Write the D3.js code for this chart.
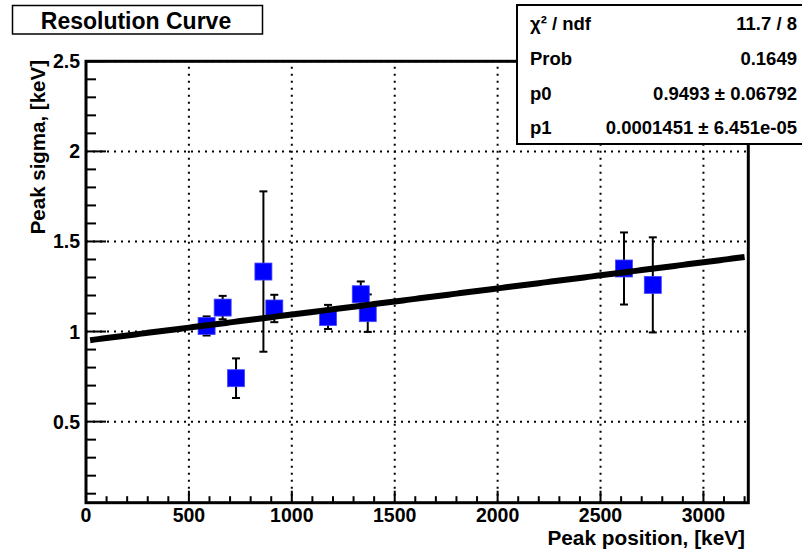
<!DOCTYPE html>
<html><head><meta charset="utf-8">
<script src="https://cdn.jsdelivr.net/npm/d3@7"></script>
<style>html,body{margin:0;padding:0;background:#fff;}svg{display:block;}</style>
</head><body>
<script>
const peakPos   = [586, 664, 729, 862, 915, 1176, 1335, 1369, 2614, 2754];
const peakSigma = [1.031, 1.133, 0.741, 1.333, 1.128, 1.081, 1.207, 1.102, 1.350, 1.259];
const sigmaErr  = [0.053, 0.065, 0.110, 0.445, 0.076, 0.067, 0.071, 0.104, 0.200, 0.264];
const fitP0 = 0.9493, fitP1 = 0.0001451;
const xTicks = [0, 500, 1000, 1500, 2000, 2500, 3000];
const yTicks = [0.5, 1, 1.5, 2, 2.5];
const statLabels = ["\u03C7\u00B2 / ndf", "Prob", "p0", "p1"];
const statValues = ["11.7 / 8", "0.1649", "0.9493 \u00B1 0.06792", "0.0001451 \u00B1 6.451e-05"];

const W = 802, H = 553;
const FONT = "'Liberation Sans', Arial, Helvetica, sans-serif";
const svg = d3.select("body").append("svg").attr("width", W).attr("height", H);
svg.append("rect").attr("width", W).attr("height", H).attr("fill", "#fff");

const L = 86, R = 748.3, T = 61.3, B = 502.7;
const x = d3.scaleLinear().domain([0, 3218]).range([L, R]);
const y = d3.scaleLinear().domain([0.05, 2.5]).range([B, T]);

// grid
const g = svg.append("g");
g.selectAll(".gx").data(xTicks.filter(d => d > 0)).enter().append("line")
  .attr("x1", d => x(d)).attr("x2", d => x(d)).attr("y1", B).attr("y2", T)
  .attr("stroke", "#000").attr("stroke-width", 2).attr("stroke-dasharray", "2,5");
g.selectAll(".gy").data(yTicks).enter().append("line")
  .attr("x1", L).attr("x2", R).attr("y1", d => y(d)).attr("y2", d => y(d))
  .attr("stroke", "#000").attr("stroke-width", 2).attr("stroke-dasharray", "2,5");

// ticks (inside)
const xMinor = d3.range(0, 3201, 100);
svg.selectAll(".tx").data(xMinor).enter().append("line")
  .attr("x1", d => x(d)).attr("x2", d => x(d)).attr("y1", B)
  .attr("y2", d => B - (d % 500 === 0 ? 12 : 6.5))
  .attr("stroke", "#000").attr("stroke-width", 2);
const yMinor = d3.range(1, 26).map(i => i / 10);
svg.selectAll(".ty").data(yMinor).enter().append("line")
  .attr("y1", d => y(d)).attr("y2", d => y(d)).attr("x1", L)
  .attr("x2", d => L + (Math.abs(d * 2 - Math.round(d * 2)) < 1e-6 ? 20 : 10))
  .attr("stroke", "#000").attr("stroke-width", 2);

// frame
svg.append("rect").attr("x", L).attr("y", T).attr("width", R - L).attr("height", B - T)
  .attr("fill", "none").attr("stroke", "#000").attr("stroke-width", 3);

// tick labels
svg.selectAll(".lx").data(xTicks).enter().append("text")
  .attr("x", d => x(d)).attr("y", 522).attr("text-anchor", "middle")
  .attr("font-family", FONT).attr("font-weight", "bold").attr("font-size", 19.5)
  .text(d => d);
svg.selectAll(".ly").data(yTicks).enter().append("text")
  .attr("x", 80).attr("y", d => y(d) + 7).attr("text-anchor", "end")
  .attr("font-family", FONT).attr("font-weight", "bold").attr("font-size", 19.5)
  .text(d => d);

// axis titles
svg.append("text").attr("x", 745).attr("y", 545).attr("text-anchor", "end")
  .attr("font-family", FONT).attr("font-weight", "bold").attr("font-size", 20.8)
  .text("Peak position, [keV]");
svg.append("text").attr("transform", "translate(45,60) rotate(-90)").attr("text-anchor", "end")
  .attr("font-family", FONT).attr("font-weight", "bold").attr("font-size", 20.5)
  .text("Peak sigma, [keV]");

// error bars
const pts = peakPos.map((p, i) => ({x: p, y: peakSigma[i], e: sigmaErr[i]}));
const eb = svg.append("g").attr("stroke", "#000").attr("stroke-width", 2);
pts.forEach(d => {
  eb.append("line").attr("x1", x(d.x)).attr("x2", x(d.x)).attr("y1", y(d.y + d.e)).attr("y2", y(d.y - d.e));
  eb.append("line").attr("x1", x(d.x) - 4).attr("x2", x(d.x) + 4).attr("y1", y(d.y + d.e)).attr("y2", y(d.y + d.e));
  eb.append("line").attr("x1", x(d.x) - 4).attr("x2", x(d.x) + 4).attr("y1", y(d.y - d.e)).attr("y2", y(d.y - d.e));
});
// markers
const S = 17;
svg.selectAll(".pt").data(pts).enter().append("rect")
  .attr("x", d => x(d.x) - S / 2).attr("y", d => y(d.y) - S / 2)
  .attr("width", S).attr("height", S).attr("fill", "#0000ff")
  .attr("stroke", "#4444ff").attr("stroke-width", 0.8);

// fit line
const fx = d3.range(20, 3201, 20);
svg.append("path").datum(fx)
  .attr("d", d3.line().x(d => x(d)).y(d => y(fitP0 + fitP1 * d)))
  .attr("fill", "none").attr("stroke", "#000").attr("stroke-width", 6);

// title box
svg.append("rect").attr("x", 12.5).attr("y", 5.5).attr("width", 250).attr("height", 28.5)
  .attr("fill", "#fff").attr("stroke", "#000").attr("stroke-width", 1.5);
svg.append("text").attr("x", 136).attr("y", 28.5).attr("text-anchor", "middle")
  .attr("font-family", FONT).attr("font-weight", "bold").attr("font-size", 23)
  .text("Resolution Curve");

// stats box
svg.append("rect").attr("x", 517).attr("y", 5).attr("width", 290).attr("height", 139)
  .attr("fill", "#fff").attr("stroke", "#000").attr("stroke-width", 2);
statLabels.forEach((s, i) => {
  svg.append("text").attr("x", 530).attr("y", 30.3 + i * 34.7)
    .attr("font-family", FONT).attr("font-weight", "bold").attr("font-size", 18.5).text(s);
  svg.append("text").attr("x", 797).attr("y", 30.3 + i * 34.7).attr("text-anchor", "end")
    .attr("font-family", FONT).attr("font-weight", "bold").attr("font-size", 18.5).text(statValues[i]);
});
</script>
</body></html>
